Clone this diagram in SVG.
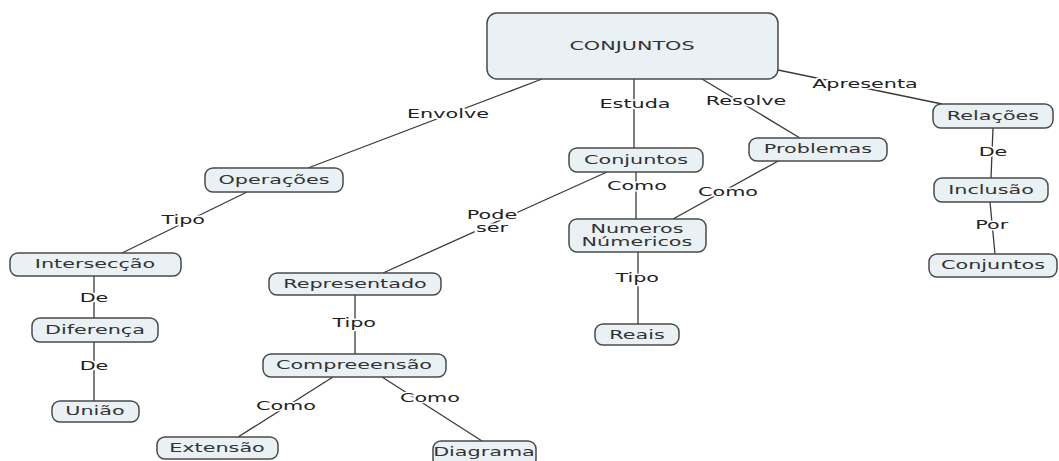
<svg xmlns="http://www.w3.org/2000/svg" width="1059" height="461" viewBox="0 0 1059 461">
<style>
.n rect{fill:#eaf1f4;stroke:#4a4a4a;stroke-width:1.5}
.t{font-family:"DejaVu Sans",Verdana,sans-serif;font-size:12.5px;fill:#333;text-anchor:middle;transform-box:fill-box;transform-origin:center;transform:scaleX(1.66)}
.l{font-family:"DejaVu Sans",Verdana,sans-serif;font-size:12.5px;fill:#222;text-anchor:middle;paint-order:stroke;stroke:#fff;stroke-width:3px;stroke-linejoin:round;transform-box:fill-box;transform-origin:center;transform:scaleX(1.66)}
#connectors line{stroke:#3a3a3a;stroke-width:1.3}
</style>
<rect width="1059" height="461" fill="#fff"/>
<g id="connectors">
<line x1="542" y1="79" x2="308" y2="168"/>
<line x1="634" y1="79" x2="634" y2="148"/>
<line x1="702" y1="79" x2="800" y2="138"/>
<line x1="778" y1="70" x2="942" y2="104"/>
<line x1="636" y1="172" x2="636" y2="219"/>
<line x1="607" y1="172" x2="383" y2="273"/>
<line x1="780" y1="160" x2="673" y2="219"/>
<line x1="638" y1="252" x2="638" y2="324"/>
<line x1="993" y1="128" x2="991" y2="178"/>
<line x1="990" y1="202" x2="995" y2="254"/>
<line x1="247" y1="192" x2="122" y2="253"/>
<line x1="94" y1="276" x2="94" y2="318"/>
<line x1="94" y1="342" x2="94" y2="401"/>
<line x1="355" y1="295" x2="355" y2="354"/>
<line x1="333" y1="377" x2="238" y2="437"/>
<line x1="382" y1="377" x2="482" y2="441"/>
<text class="l" x="448" y="118">Envolve</text>
<text class="l" x="635" y="108">Estuda</text>
<text class="l" x="746" y="105">Resolve</text>
<text class="l" x="865" y="88">Apresenta</text>
<text class="l" x="637" y="190">Como</text>
<text class="l" x="492" y="219"><tspan x="492">Pode</tspan><tspan x="492" dy="13">ser</tspan></text>
<text class="l" x="728" y="196">Como</text>
<text class="l" x="637" y="282">Tipo</text>
<text class="l" x="993" y="156">De</text>
<text class="l" x="992" y="229">Por</text>
<text class="l" x="183" y="224">Tipo</text>
<text class="l" x="94" y="302">De</text>
<text class="l" x="94" y="370">De</text>
<text class="l" x="354" y="327">Tipo</text>
<text class="l" x="286" y="410">Como</text>
<text class="l" x="430" y="402">Como</text>
</g>
<g id="n-main" class="n"><rect x="487" y="13" width="291" height="66" rx="10"/><text class="t" x="632" y="50">CONJUNTOS</text></g>
<g id="n-operacoes" class="n"><rect x="205" y="168" width="138" height="24" rx="8"/><text class="t" x="274" y="184">Operações</text></g>
<g id="n-conjuntos" class="n"><rect x="569" y="148" width="134" height="24" rx="8"/><text class="t" x="636" y="164">Conjuntos</text></g>
<g id="n-problemas" class="n"><rect x="749" y="138" width="138" height="23" rx="8"/><text class="t" x="818" y="153">Problemas</text></g>
<g id="n-relacoes" class="n"><rect x="933" y="104" width="120" height="24" rx="8"/><text class="t" x="993" y="120">Relações</text></g>
<g id="n-inclusao" class="n"><rect x="934" y="178" width="114" height="24" rx="8"/><text class="t" x="991" y="194">Inclusão</text></g>
<g id="n-conjuntos2" class="n"><rect x="929" y="254" width="128" height="23" rx="8"/><text class="t" x="993" y="269">Conjuntos</text></g>
<g id="n-numeros" class="n"><rect x="569" y="219" width="137" height="33" rx="8"/><text class="t" x="637" y="233"><tspan x="637">Numeros</tspan><tspan x="637" dy="13">Númericos</tspan></text></g>
<g id="n-reais" class="n"><rect x="595" y="324" width="84" height="21" rx="8"/><text class="t" x="637" y="339">Reais</text></g>
<g id="n-interseccao" class="n"><rect x="10" y="253" width="171" height="23" rx="8"/><text class="t" x="95" y="268">Intersecção</text></g>
<g id="n-diferenca" class="n"><rect x="32" y="318" width="126" height="24" rx="8"/><text class="t" x="95" y="334">Diferença</text></g>
<g id="n-uniao" class="n"><rect x="52" y="401" width="87" height="21" rx="8"/><text class="t" x="95" y="415">União</text></g>
<g id="n-representado" class="n"><rect x="269" y="273" width="172" height="22" rx="8"/><text class="t" x="355" y="288">Representado</text></g>
<g id="n-compreensao" class="n"><rect x="263" y="354" width="183" height="23" rx="8"/><text class="t" x="354" y="369">Compreeensão</text></g>
<g id="n-extensao" class="n"><rect x="157" y="437" width="121" height="22" rx="8"/><text class="t" x="217" y="452">Extensão</text></g>
<g id="n-diagrama" class="n"><rect x="433" y="441" width="103" height="26" rx="8"/><text class="t" x="484" y="456">Diagrama</text></g>
</svg>
